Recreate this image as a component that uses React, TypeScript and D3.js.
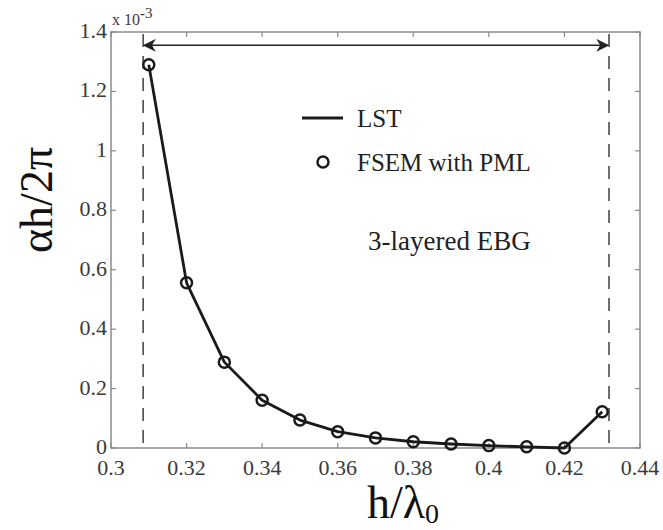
import React from "react";
import * as d3 from "d3";

const hLambda = [0.31, 0.32, 0.33, 0.34, 0.35, 0.36, 0.37, 0.38, 0.39, 0.4, 0.41, 0.42, 0.43];
const alpha = [1.29, 0.556, 0.289, 0.161, 0.094, 0.055, 0.034, 0.021, 0.0135, 0.008, 0.004, 0.0, 0.122];
const xTicks = [0.3, 0.32, 0.34, 0.36, 0.38, 0.4, 0.42, 0.44];
const yTicks = [0, 0.2, 0.4, 0.6, 0.8, 1, 1.2, 1.4];
const bandEdges = [0.3085, 0.4318];

const width = 663,
  height = 530;
const left = 111,
  right = 640,
  top = 32,
  bottom = 448;

const serif = "Liberation Serif, Times New Roman, DejaVu Serif, serif";

const App = () => {
  const x = d3.scaleLinear().domain([0.3, 0.44]).range([left, right]);
  const y = d3.scaleLinear().domain([0, 1.4]).range([bottom, top]);

  const line = d3
    .line<number>()
    .x((d, i) => x(hLambda[i]))
    .y((d) => y(d));

  const axisColor = "#8a8a8a";
  const tickColor = "#3a3a3a";
  const tl = 5; // tick length
  const ts = { fontFamily: serif };

  return (
    <svg
      width={width}
      height={height}
      style={{ position: "absolute", left: 0, top: 0, background: "#fff" }}
    >
      <defs>
        <marker id="arrow" viewBox="0 0 10 10" refX="9" refY="5" markerWidth="13" markerHeight="13" orient="auto-start-reverse" markerUnits="userSpaceOnUse">
          <path d="M0,0 L10,5 L0,10 L3,5 z" fill="#222" />
        </marker>
      </defs>

      {/* axis box */}
      <rect x={left} y={top} width={right - left} height={bottom - top} fill="none" stroke={axisColor} strokeWidth={1.5} />

      {xTicks.map((t) => (
        <g key={"x" + t}>
          <line x1={x(t)} x2={x(t)} y1={bottom} y2={bottom - tl} stroke={axisColor} strokeWidth={1.2} />
          <line x1={x(t)} x2={x(t)} y1={top} y2={top + tl} stroke={axisColor} strokeWidth={1.2} />
          <text x={x(t)} y={bottom + 27} textAnchor="middle" fontSize={22} fill={tickColor} style={ts}>
            {d3.format("")(t)}
          </text>
        </g>
      ))}

      {yTicks.map((t) => (
        <g key={"y" + t}>
          <line x1={left} x2={left + tl} y1={y(t)} y2={y(t)} stroke={axisColor} strokeWidth={1.2} />
          <line x1={right} x2={right - tl} y1={y(t)} y2={y(t)} stroke={axisColor} strokeWidth={1.2} />
          <text x={left - 4} y={y(t) + 6} textAnchor="end" fontSize={22} fill={tickColor} style={ts}>
            {d3.format("")(t)}
          </text>
        </g>
      ))}

      <text x={left + 1} y={25} fontSize={16} fill={tickColor} style={ts}>
        x 10
        <tspan dy={-7} fontSize={15} fontWeight="bold">-</tspan>
        <tspan fontSize={15}>3</tspan>
      </text>

      {/* band edges */}
      {bandEdges.map((b) => (
        <line key={"b" + b} x1={x(b)} x2={x(b)} y1={y(1.4) + 2} y2={y(0)} stroke="#222" strokeWidth={1.3} strokeDasharray="13 9" />
      ))}
      <line
        x1={x(bandEdges[0]) + 1}
        x2={x(bandEdges[1]) - 1}
        y1={y(1.355)}
        y2={y(1.355)}
        stroke="#222"
        strokeWidth={1.5}
        markerStart="url(#arrow)"
        markerEnd="url(#arrow)"
      />

      {/* data */}
      <path d={line(alpha) || ""} fill="none" stroke="#1a1a1a" strokeWidth={2.8} strokeLinejoin="round" />
      {alpha.map((a, i) => (
        <circle key={"c" + i} cx={x(hLambda[i])} cy={y(a)} r={5.5} fill="none" stroke="#1a1a1a" strokeWidth={2.5} />
      ))}

      {/* legend */}
      <line x1={302} x2={343} y1={118} y2={118} stroke="#1a1a1a" strokeWidth={3} />
      <text x={357} y={127} fontSize={25} fill="#222" style={ts}>LST</text>
      <circle cx={323} cy={162} r={5.5} fill="none" stroke="#1a1a1a" strokeWidth={2.5} />
      <text x={357} y={171} fontSize={25} fill="#222" style={ts}>FSEM with PML</text>

      <text x={368} y={250} fontSize={27} fill="#222" style={ts}>3-layered EBG</text>

      {/* axis labels */}
      <text transform="translate(52,253) rotate(-90)" textAnchor="start" fontSize={46} fill="#111" style={ts}>
        αh/2π
      </text>
      <text x={367} y={518} textAnchor="start" fontSize={46} fill="#111" style={ts}>
        h/λ
        <tspan dy={5} fontSize={28}>0</tspan>
      </text>
    </svg>
  );
};

export default App;
